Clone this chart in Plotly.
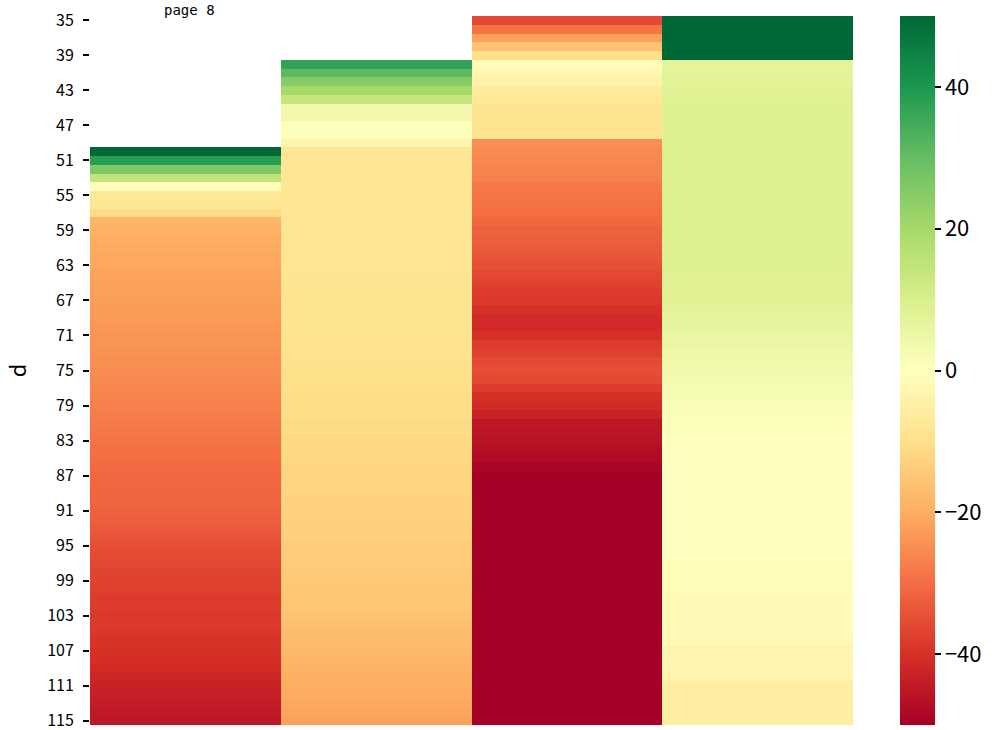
import plotly.graph_objects as go

rows = list(range(35, 116))
columns = ["c1", "c2", "c3", "c4"]

# column 1: rows 50..115
col1_vals = [50, 38, 26, 15, -1, -7, -8, -11, -18.5, -19,          # 50-59
             -20, -20.5, -21, -21, -21.5, -22, -22, -22.5, -23, -23,  # 60-69
             -23.5, -24, -24, -24.5, -25, -25, -25.5, -26, -26.5, -27,  # 70-79
             -27.5, -28, -28.5, -29, -29.5, -30, -30.5, -31, -31, -31.5,  # 80-89
             -31.5, -32, -32.5, -33, -34, -35, -35.5, -36, -36.5, -37,  # 90-99
             -37.5, -38, -38, -38.5, -38.5, -39, -39.5, -40, -40.5, -41,  # 100-109
             -42, -43, -43.5, -44, -44.5, -45]                          # 110-115
# column 2: rows 40..115
col2_vals = [37, 31, 25, 20, 14, 3.5, 3.5, 0.5, 0.5, -3.5,            # 40-49
             -8, -8, -8, -8, -8, -8, -8, -8, -8, -8,                    # 50-59
             -8.5, -8.5, -8.5, -8.5, -8.5, -9, -9, -9, -9, -9,          # 60-69
             -9, -9, -9.5, -9.5, -9.5, -10, -10, -10, -10.5, -10.5,     # 70-79
             -10.5, -11, -11, -11.5, -11.5, -11.5, -12,                 # 80-86
             -12, -12.5, -12.5, -13,                                    # 87-90
             -13, -13, -13.5, -13.5, -14, -14, -14, -14.5,              # 91-98
             -14.5, -15, -15, -15.5,                                    # 99-102
             -16, -16.5, -17, -17.5,                                    # 103-106
             -18, -18.5, -19, -19.5,                                    # 107-110
             -20, -20.5, -21, -21.5, -22]                               # 111-115
# column 3: rows 35..115
col3_vals = [-36, -29, -22, -16, -10, -1, -3, -4.5, -6.5, -7.5,        # 35-44
             -9, -9, -9, -9,                                            # 45-48
             -25, -25.5, -26, -26.5, -27, -28, -29, -29.5, -30, -31,    # 49-58
             -32, -32.5, -33, -34, -35, -36, -37, -38,                  # 59-66
             -38.5, -40, -41, -41.5, -40, -38, -37, -35.5, -35, -36,    # 67-76
             -38, -40, -41, -43, -45, -45.5, -46, -47, -48, -49,        # 77-86
             -55, -55, -55, -55, -55, -55, -55, -55, -55, -55,          # 87-96
             -55, -55, -55, -55, -55, -55, -55, -55, -55, -55,          # 97-106
             -55, -55, -55, -55, -55, -55, -55, -55, -55]               # 107-115
# column 4: rows 35..115
col4_vals = [55, 55, 55, 55, 55,                                        # 35-39
             7, 7, 7.5, 8, 8.5,                                         # 40-44
             9, 9, 9, 9, 9, 9, 9, 9, 9, 9,                              # 45-54
             9, 9, 9, 9, 9, 9, 9, 9, 9,                                 # 55-63
             8.5, 8.5, 8, 8,                                            # 64-67
             7, 6.5, 6, 5.5, 5, 4.5, 4, 3.5, 3, 2.5, 2, 1.5, 1,         # 68-80
             0.5, 0.5,                                                  # 81-82
             0, 0, 0, 0, 0, 0, 0, 0, 0, 0, 0, 0, 0, 0,                  # 83-96
             -1, -1, -1, -1, -1.5, -1.5, -1.5, -1.5, -2, -2,            # 97-106
             -3.5, -3.5, -3.5, -3.5,                                    # 107-110
             -5.5, -5.5, -5.5, -5.5, -5.5]                              # 111-115
col_starts = [50, 40, 35, 35]
tick_rows = rows[::4]
cbar_ticks = [40, 20, 0, -20, -40]

series = [col1_vals, col2_vals, col3_vals, col4_vals]
z = []
for r in rows:
    line = []
    for start, vals in zip(col_starts, series):
        i = r - start
        line.append(vals[i] if 0 <= i < len(vals) else None)
    z.append(line)

font_family = "Noto Sans CJK JP, DejaVu Sans, sans-serif"

fig = go.Figure(go.Heatmap(
    z=z, x=columns, y=rows,
    colorscale="RdYlGn", zmin=-50, zmax=50,
    hoverongaps=False,
    colorbar=dict(
        thickness=35, len=1, lenmode="fraction", y=0.5, yanchor="middle",
        x=1.0616, xanchor="left", xpad=0, ypad=0,
        tickvals=cbar_ticks, ticks="outside", ticklen=6, tickwidth=1.5,
        tickcolor="black", outlinewidth=0, ticklabeloverflow="allow",
        tickfont=dict(size=22, family=font_family, color="black"),
    ),
))

fig.update_layout(
    width=999, height=730,
    margin=dict(l=90, r=146, t=16, b=5, autoexpand=False),
    plot_bgcolor="white", paper_bgcolor="white",
    font=dict(family=font_family, color="black"),
    xaxis=dict(showticklabels=False, ticks="", showgrid=False, zeroline=False,
               automargin=False),
    yaxis=dict(
        autorange=False, range=[115.5, 34.5], automargin=False,
        tickvals=tick_rows, ticktext=[str(v) for v in tick_rows],
        ticks="outside", ticklen=6, tickwidth=1.5, tickcolor="black",
        tickfont=dict(size=16, family=font_family),
        ticklabeloverflow="allow", ticklabelstandoff=6,
        showgrid=False, zeroline=False,
        title=dict(text="d", font=dict(size=22, family=font_family), standoff=14),
    ),
    annotations=[dict(
        text="page 8", x=0.131, y=1.0, xref="paper", yref="paper",
        xanchor="center", yanchor="middle", yshift=6, showarrow=False,
        font=dict(size=14, family="DejaVu Sans Mono, monospace", color="black"),
    )],
)

fig.write_html("out.html", config={"displayModeBar": False},
               post_script="document.body.style.margin='0';")
